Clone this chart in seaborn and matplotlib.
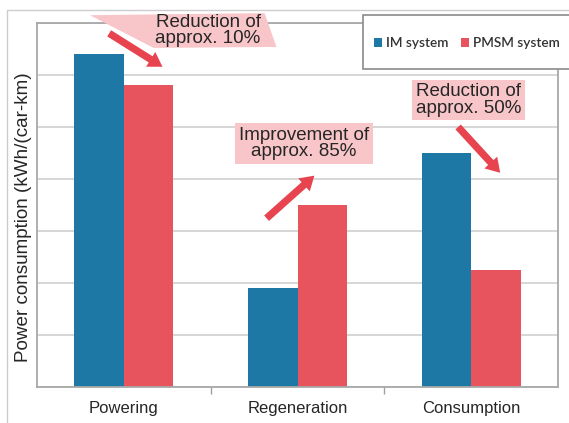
import matplotlib
matplotlib.use("Agg")
import matplotlib.pyplot as plt
from matplotlib.patches import Rectangle, Polygon, FancyArrowPatch
from matplotlib.lines import Line2D
import seaborn as sns
import pandas as pd

# Data
categories = ["Powering", "Regeneration", "Consumption"]
systems = ["IM system", "PMSM system"]
im_values = [6.4, 1.9, 4.5]
pmsm_values = [5.8, 3.5, 2.25]

df = pd.DataFrame({
    "category": categories * 2,
    "system": [systems[0]] * 3 + [systems[1]] * 3,
    "value": im_values + pmsm_values,
})

sns.set_theme(style="white")
plt.rcParams["font.family"] = ["Liberation Sans", "DejaVu Sans"]

W, H = 569, 423
fig = plt.figure(figsize=(W / 100, H / 100), dpi=100)
ax = fig.add_axes([37 / W, 1 - 387 / H, (558 - 37) / W, (387 - 23) / H])

blue = "#1d78a6"
red = "#e8545d"
pink = "#f8c6c9"
arrow_red = "#e8444f"
txt = "#262626"

sns.barplot(data=df, x="category", y="value", hue="system",
            palette=[blue, red], width=0.57, gap=0, linewidth=0,
            saturation=1, ax=ax, zorder=2)

handles, labels = ax.get_legend_handles_labels()
ax.get_legend().remove()

ax.set_xlim(-0.5, 2.5)
ax.set_ylim(0, 7)
ax.set_yticks(range(0, 8))
ax.set_yticklabels([])
ax.grid(axis="y", color="#cfcfcf", linewidth=1.2, zorder=0)
ax.set_axisbelow(True)
ax.tick_params(axis="y", length=0)
ax.tick_params(axis="x", length=0, pad=10, labelsize=12, labelcolor=txt)
ax.set_xticks([0.5, 1.5], minor=True)
ax.tick_params(axis="x", which="minor", length=5, color="#a0a0a0", width=1,
               direction="out", bottom=True)
ax.set_xlabel("")
ax.set_ylabel("Power consumption (kWh/(car-km)", fontsize=13.6, color=txt)
ax.yaxis.set_label_coords(-0.009, 0.467)
for side in ["left", "right", "top", "bottom"]:
    ax.spines[side].set_visible(True)
    ax.spines[side].set_color("#a8a8a8")
    ax.spines[side].set_linewidth(1.3)

# Outer frame lines
fig.add_artist(Line2D([7 / W, 7 / W], [0, 1 - 10 / H], color="#cccccc", lw=1,
                      transform=fig.transFigure))
fig.add_artist(Line2D([7 / W, 1], [1 - 10 / H, 1 - 10 / H], color="#cccccc", lw=1,
                      transform=fig.transFigure))

# Legend box
fig.add_artist(Rectangle((363 / W, 1 - 69 / H), (575 - 363) / W, 54 / H,
                         transform=fig.transFigure, facecolor="white",
                         edgecolor="#8a8a8a", lw=1.2, zorder=3))
fig.legend(handles, labels, loc="center", bbox_to_anchor=(467 / W, 1 - 43 / H),
           ncol=2, frameon=False, handlelength=0.6, handleheight=0.6,
           handletextpad=0.3, columnspacing=0.9,
           prop={"family": "Lato", "size": 9.8, "weight": "semibold"},
           labelcolor="#333333")

# Callout for Powering
ax.add_patch(Polygon([(-0.195, 7.15), (0.81, 7.19), (0.879, 6.54), (0.172, 6.52)],
                     closed=True, facecolor=pink, edgecolor="none",
                     clip_on=False, zorder=4))
ax.text(0.485, 6.86, "Reduction of\napprox. 10%", ha="center", va="center",
        fontsize=13.5, color=txt, linespacing=0.95, zorder=5, clip_on=False)

# Callouts with boxes
box = dict(boxstyle="square,pad=0.2", facecolor=pink, edgecolor="none")
ax.text(1.037, 4.68, "Improvement of\napprox. 85%", ha="center", va="center",
        fontsize=13.5, color=txt, linespacing=0.95, bbox=box, zorder=5)
ax.text(1.986, 5.52, "Reduction of\napprox. 50%", ha="center", va="center",
        fontsize=13.5, color=txt, linespacing=0.95, bbox=box, zorder=5)

# Arrows
arrows = [((-0.098, 6.83), (0.236, 6.13)),
          ((0.81, 3.21), (1.109, 4.10)),
          ((1.914, 5.04), (2.178, 4.08))]
for start, end in arrows:
    ax.add_patch(FancyArrowPatch(start, end,
                                 arrowstyle="simple,head_width=2.5,head_length=2.0,tail_width=1.05",
                                 mutation_scale=5, color=arrow_red, lw=0,
                                 zorder=6, clip_on=False))

fig.savefig("out.png", dpi=100)
